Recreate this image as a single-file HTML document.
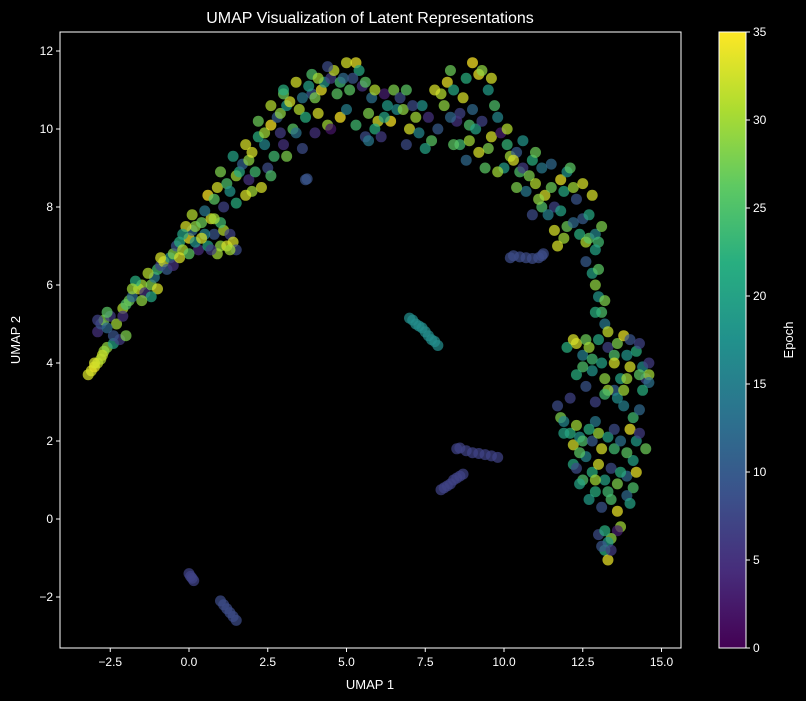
<!DOCTYPE html>
<html><head><meta charset="utf-8">
<style>
html,body{margin:0;padding:0;background:#000;}
svg{display:block;font-family:"Liberation Sans","DejaVu Sans",sans-serif;}
</style></head>
<body>
<svg id="chart" width="806" height="701" viewBox="0 0 806 701">
<rect x="0" y="0" width="806" height="701" fill="#000"/>
<defs>
<linearGradient id="vir" x1="0" y1="1" x2="0" y2="0">
<stop offset="0" stop-color="#440154"/><stop offset="0.125" stop-color="#472d7b"/>
<stop offset="0.25" stop-color="#3b528b"/><stop offset="0.375" stop-color="#2c728e"/>
<stop offset="0.5" stop-color="#21918c"/><stop offset="0.625" stop-color="#28ae80"/>
<stop offset="0.75" stop-color="#5ec962"/><stop offset="0.875" stop-color="#addc30"/>
<stop offset="1" stop-color="#fde725"/></linearGradient>
<clipPath id="plotclip"><rect x="60" y="32" width="621" height="616"/></clipPath>
</defs>
<g id="points" clip-path="url(#plotclip)"></g>
<rect x="60" y="32" width="621" height="616" fill="none" stroke="#fff" stroke-width="1"/>
<g id="xticks"></g>
<g id="yticks"></g>
<text x="370" y="23" fill="#fff" font-size="16" text-anchor="middle">UMAP Visualization of Latent Representations</text>
<text x="370" y="689" fill="#fff" font-size="13" text-anchor="middle">UMAP 1</text>
<text x="0" y="0" fill="#fff" font-size="13" text-anchor="middle" transform="translate(20,340) rotate(-90)">UMAP 2</text>
<rect x="719" y="32" width="27" height="616" fill="url(#vir)" stroke="#fff" stroke-width="1"/>
<g id="cticks"></g>
<text x="0" y="0" fill="#fff" font-size="13" text-anchor="middle" transform="translate(793,340) rotate(-90)">Epoch</text>
</svg>
<script>
const xTickValues = [-2.5, 0.0, 2.5, 5.0, 7.5, 10.0, 12.5, 15.0];
const yTickValues = [-2, 0, 2, 4, 6, 8, 10, 12];
const cTickValues = [0, 5, 10, 15, 20, 25, 30, 35];
// [umap1, umap2, epoch]
const leftArm = [
[-3.2,3.7,33],[-3.1,3.8,33],[-3.0,3.9,34],[-2.9,4.0,32],[-2.8,4.1,31],[-2.7,4.3,30],[-2.6,4.4,29],
[-2.9,4.8,5],[-2.8,5.0,9],[-2.7,5.1,28],[-2.5,5.2,6],[-2.4,4.5,20],[-2.2,4.6,6],[-2.1,5.4,31],
[-2.0,5.5,25],[-1.9,5.6,27],[-1.8,5.7,12],[-1.6,5.9,33],[-1.5,6.0,30],[-1.4,5.8,5],[-1.2,6.0,28],
[-1.1,6.2,14],[-1.0,6.4,24],[-0.9,6.5,7],[-0.8,6.6,32],[-0.6,6.7,17],[-0.5,6.8,28],[-0.4,7.0,9],
[-0.3,7.1,22],[-0.2,6.9,31],[0.0,7.2,34],[0.1,7.4,12],[0.2,7.5,29],[-0.1,7.5,33],[0.3,6.9,4],
[0.4,7.6,27],[0.6,7.0,20],[0.7,7.7,33],[0.8,7.3,9],[1.0,7.0,29],[1.1,7.4,31],[1.3,7.3,7],
[1.4,7.1,33],[1.5,6.9,8],[-2.3,5.0,30],[-1.7,6.1,22],[-1.3,6.3,31],[-0.7,6.4,10],[0.0,6.8,26],
[0.5,7.3,16],[0.9,6.8,30],[1.2,7.0,33],[-2.6,4.9,12],[-1.0,5.9,33],
[-2.9,5.1,7],[-2.6,5.3,26],[-2.4,4.7,9],[-2.0,4.7,28],[-1.8,5.9,30],[-1.2,5.7,21],[-0.9,6.7,33],
[-0.5,6.5,5],[-0.3,6.7,33],[0.2,7.1,18],[0.4,7.2,33],[0.7,6.9,6],[1.3,6.9,30],[1.0,7.6,24],
[0.1,7.8,31],[-0.2,7.3,20],[-1.5,5.6,29],[-2.1,5.2,5],[-3.0,4.0,33],[-2.75,4.2,32]];
const upperArc = [
[0.5,7.9,14],[0.6,8.3,35],[0.8,8.2,26],[0.9,8.5,33],[1.1,8.0,7],[1.2,8.6,25],[1.3,8.4,18],
[1.5,8.8,30],[1.6,8.9,21],[1.7,9.1,11],[1.9,9.2,29],[2.0,9.4,33],[1.9,8.7,5],[2.1,8.9,24],
[2.3,8.5,33],[2.4,9.6,16],[2.5,9.0,8],[2.2,9.8,22],[2.4,9.9,30],[2.6,10.1,35],[2.8,10.3,10],
[2.9,10.4,29],[3.1,10.6,19],[3.2,10.7,33],[3.0,9.6,5],[3.3,10.0,26],[3.4,9.9,13],[3.5,10.5,31],
[3.7,10.3,22],[3.9,10.9,9],[4.0,10.8,28],[4.2,11.0,34],[4.3,11.2,18],[4.5,11.3,6],[4.6,11.5,32],
[4.8,11.2,24],[4.9,11.3,12],[3.6,9.5,8],[3.7,8.7,9],[3.75,8.72,9],[4.4,10.1,30],[4.5,10.0,2],
[4.8,10.3,35],[5.0,10.5,15],[5.1,11.0,26],[5.3,11.7,34],[5.4,11.5,21],[5.5,11.1,5],[5.7,10.4,28],
[5.8,10.8,13],[6.0,10.2,33],[6.2,10.9,3],[6.3,10.6,19],[5.6,9.8,8],[5.7,9.7,14],[5.9,10.0,22],
[6.1,9.8,6],[6.4,10.2,35],[6.6,10.5,17],[6.5,11.0,28],[6.7,10.8,8],[7.0,10.0,33],[7.2,10.3,30],
[7.3,9.9,16],[7.6,10.3,5],[7.7,9.7,26],[7.9,10.0,10],[8.1,10.6,29],[8.2,11.2,34],[8.4,11.0,21],
[8.6,10.4,7],[8.7,10.8,33],[8.9,10.1,25],[9.0,11.7,35],[9.2,11.4,34],[9.3,11.5,29],[9.5,11.0,19],
[8.5,10.2,5],[8.6,9.6,24],[8.8,9.2,12],[8.9,9.7,30],[9.1,10.0,20],[9.3,10.2,7],[9.5,9.5,28],
[9.6,9.8,33],[9.8,10.3,16],[9.9,9.9,3],[10.1,9.6,23],[10.2,9.3,30],[10.4,9.4,10],[10.5,8.9,25],
[10.0,9.0,19],[10.3,9.2,33],[10.6,9.0,6],[10.8,8.8,28],[10.9,9.2,22],[11.0,8.6,31],[11.2,9.0,14],
[11.3,8.3,33],[11.5,8.5,27],[11.6,8.0,7],[11.8,8.7,34],[11.9,8.4,21],[12.0,8.9,18],[12.2,8.5,30],
[12.3,8.2,9],[11.2,8.0,25],[11.4,7.8,15],[11.6,7.4,33],[11.8,7.9,20],[12.0,7.5,27],[12.2,7.6,12],
[12.4,7.3,22],[12.6,7.1,31],[12.7,7.2,26],[12.9,7.3,16],[13.0,7.1,24],[3.0,10.9,27],[3.8,11.1,20],
[4.1,10.4,33],[4.7,10.9,26],[5.2,11.3,9],[6.8,10.5,29],[7.4,10.6,18],[8.0,10.9,31],[8.3,10.3,12],
[9.4,9.0,26],[10.7,8.4,14],[11.1,8.2,29],[12.5,7.7,10],[12.8,8.3,33],[2.7,9.3,24],[2.0,8.4,30],
[1.0,8.9,28],[1.4,9.3,20],[1.8,9.6,33],[2.2,10.2,27],[2.6,10.6,31],[3.0,11.0,22],[3.4,11.2,33],
[3.9,11.4,25],[4.4,11.6,8],[5.0,11.7,33],[5.6,11.2,26],[5.9,11.0,31],[6.2,10.3,20],[7.1,10.6,8],
[7.8,11.0,33],[8.3,11.5,27],[8.8,11.3,22],[9.6,11.3,33],[9.7,10.6,25],[10.1,10.0,31],[10.6,9.7,18],
[11.0,9.4,27],[11.5,9.1,12],[12.1,9.0,26],[12.5,8.6,33],[12.7,7.8,21],[13.1,7.5,28],[11.9,7.2,30],
[10.9,7.8,8],[10.4,8.5,28],[9.8,8.9,30],[9.2,9.4,33],[8.4,9.6,26],[7.5,9.5,20],[6.9,9.6,8],
[5.3,10.1,24],[4.0,9.9,5],[3.1,9.3,28],[2.6,8.8,25],[1.8,8.3,33],[1.5,8.1,22],[0.8,7.7,30],
[2.9,9.9,6],[3.6,10.8,14],[4.1,11.3,30],[6.9,11.0,26],[9.0,10.5,12],[11.7,7.0,33]];
const rightArm = [
[12.6,6.6,10],[12.8,6.3,20],[12.9,6.0,29],[13.0,5.7,18],[13.1,5.3,25],[13.2,5.0,14],[13.3,4.8,32],
[12.0,4.4,22],[12.3,4.5,33],[12.5,4.2,15],[12.8,4.1,24],[13.1,4.0,20],[13.3,4.4,7],[13.6,4.5,28],
[13.8,4.7,34],[14.0,4.6,9],[14.2,4.3,22],[14.4,3.9,17],[14.5,3.6,7],[14.6,3.7,30],[14.6,3.5,13],
[14.3,3.7,26],[14.0,3.9,33],[13.7,3.6,20],[13.5,3.3,11],[13.2,3.6,29],[12.8,3.8,18],[12.5,3.9,25],
[12.3,3.7,22],[12.9,3.0,7],[13.3,3.3,30],[13.6,3.1,17],[13.8,2.9,15],[14.1,2.6,24],[14.3,2.8,12],
[11.7,2.9,8],[11.8,2.6,28],[11.9,2.5,16],[12.1,2.2,22],[12.2,1.9,33],[12.4,2.1,18],[12.5,2.0,25],
[12.8,2.0,10],[13.0,2.2,30],[13.3,2.1,20],[13.5,1.8,24],[13.7,2.0,13],[14.0,2.3,34],[14.2,2.0,19],
[14.5,1.8,27],[12.2,1.4,21],[12.3,1.3,8],[12.5,1.0,25],[12.6,1.6,16],[12.8,1.2,22],[13.0,1.4,33],
[13.2,1.0,20],[13.4,1.3,8],[13.6,0.9,28],[13.9,1.1,12],[14.1,0.8,25],[14.2,1.2,34],[12.7,0.5,19],
[12.9,0.7,22],[13.1,0.3,9],[13.4,0.5,25],[13.6,0.2,34],[13.9,0.6,12],[13.7,-0.2,30],[13.6,-0.3,3],
[13.4,-0.5,29],[13.3,-0.6,18],[13.2,-0.8,22],[13.1,-0.7,9],[13.3,-1.05,34],[13.0,-0.4,8],
[12.4,1.7,26],[13.8,3.3,30],[12.6,4.6,27],[14.1,1.5,20],[12.9,2.5,14],[13.5,4.2,25],
[12.2,4.6,33],[12.7,4.4,30],[13.0,4.6,21],[13.5,4.0,33],[13.9,4.2,18],[14.3,4.5,7],[14.6,4.0,6],
[14.4,3.3,22],[13.9,3.6,30],[13.2,3.2,24],[12.6,3.4,9],[12.1,3.1,7],[11.9,2.2,20],[12.3,2.4,30],
[12.7,2.3,22],[13.1,1.8,33],[13.5,2.3,8],[13.9,1.7,26],[14.3,2.2,6],[12.4,0.9,20],[12.9,1.0,30],
[13.3,0.7,24],[13.7,1.2,22],[14.0,0.4,20],[13.2,-0.3,22],[13.4,-0.8,6],[12.9,5.3,22],[13.0,6.4,26],
[12.9,6.9,20],[13.2,5.6,28]];
const isolatedClusters = [
[7.0,5.15,17],[7.1,5.1,17],[7.2,5.0,17],[7.3,4.95,17],[7.4,4.9,17],[7.5,4.8,17],[7.6,4.7,17],[7.7,4.6,17],[7.8,4.55,17],[7.9,4.45,17],
[8.0,0.75,7],[8.1,0.8,7],[8.2,0.85,7],[8.3,0.9,7],[8.4,1.0,7],[8.5,1.05,7],[8.6,1.1,7],[8.7,1.15,7],
[8.5,1.8,7],[8.6,1.82,7],[8.8,1.75,7],[9.0,1.7,7],[9.2,1.68,7],[9.4,1.65,7],[9.6,1.62,7],[9.8,1.58,7],
[0.0,-1.4,7],[0.05,-1.47,7],[0.1,-1.52,7],[0.15,-1.58,7],[1.0,-2.1,8],[1.1,-2.2,8],[1.2,-2.3,8],[1.3,-2.4,8],[1.4,-2.5,8],[1.5,-2.6,8],
[10.3,6.75,8],[10.5,6.72,8],[10.7,6.7,8],[10.9,6.68,8],[11.1,6.7,8],[11.2,6.75,8],[11.25,6.8,8],[10.2,6.7,8]];

const X0=60,X1=681,Y0=32,Y1=648;
const cMin=0,cMax=35;
function sx(v){return 189+v*31.5;}
function sy(v){return 519-v*39;}
function sc(v){return Y1-(v-cMin)/(cMax-cMin)*(Y1-Y0);}
const vir=[[68,1,84],[71,45,123],[59,82,139],[44,114,142],[33,145,140],[40,174,128],[94,201,98],[173,220,48],[253,231,37]];
function color(e){let t=Math.max(0,Math.min(1,((+e||0)-cMin)/(cMax-cMin)))*8;let i=Math.min(7,Math.floor(t));let f=t-i;let a=vir[i],b=vir[i+1];
return 'rgb('+a.map((c,k)=>Math.round(c+(b[k]-c)*f)).join(',')+')';}
const NS='http://www.w3.org/2000/svg';
const pg=document.getElementById('points');
[leftArm,upperArc,rightArm,isolatedClusters].forEach(arr=>arr.forEach(p=>{
 const c=document.createElementNS(NS,'circle');
 c.setAttribute('cx',sx(p[0]));c.setAttribute('cy',sy(p[1]));c.setAttribute('r',5.5);
 c.setAttribute('fill',color(p[2]));c.setAttribute('fill-opacity',0.72);
 
 
 pg.appendChild(c);
}));
function mk(tag,attrs,parent,txt){const e=document.createElementNS(NS,tag);for(const k in attrs)e.setAttribute(k,attrs[k]);if(txt!==undefined)e.textContent=txt;parent.appendChild(e);return e;}
const xg=document.getElementById('xticks');
xTickValues.forEach(v=>{const x=sx(v);
 mk('line',{x1:x,x2:x,y1:Y1,y2:Y1+4,stroke:'#fff'},xg);
 const t=mk('text',{x:x,y:Y1+18,fill:'#fff','font-size':12,'text-anchor':'middle'},xg,(v<0?'\u2212':'')+Math.abs(v).toFixed(1));
 
 
});
const yg=document.getElementById('yticks');
yTickValues.forEach(v=>{const y=sy(v);
 mk('line',{x1:X0-4,x2:X0,y1:y,y2:y,stroke:'#fff'},yg);
 const t=mk('text',{x:X0-7,y:y+4,fill:'#fff','font-size':12,'text-anchor':'end'},yg,(v<0?'\u2212':'')+Math.abs(v));
 
 
});
const cg=document.getElementById('cticks');
cTickValues.forEach(v=>{const y=sc(v);
 mk('line',{x1:746,x2:750,y1:y,y2:y,stroke:'#fff'},cg);
 const t=mk('text',{x:753,y:y+4,fill:'#fff','font-size':12},cg,String(v));
 
 
});
</script>
</body></html>
